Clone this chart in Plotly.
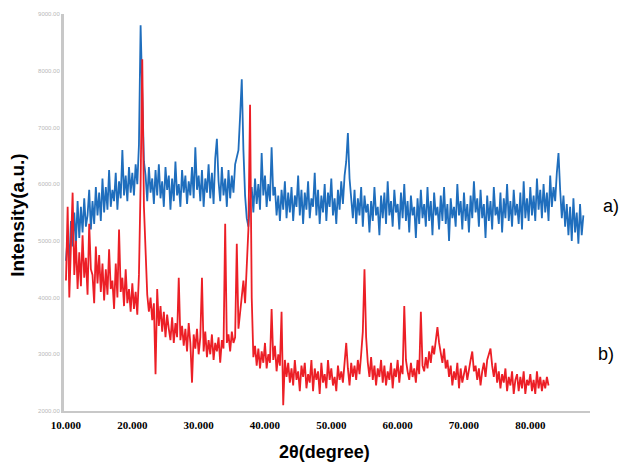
import plotly.graph_objects as go

# 2-theta grids (degree)
theta_a_start, theta_b_start, theta_step = 10.0, 10.0, 0.25

# series a) (blue)
intensity_a = [
    4650, 5100, 4600, 5350, 4900, 5500, 4950, 5700,
    5050, 5600, 5150, 5750, 5250, 5450, 5900, 5200,
    5700, 5300, 5950, 5450, 5850, 5350, 6100, 5500,
    5950, 5550, 6250, 5600, 5900, 5700, 6200, 5550,
    6050, 5750, 6600, 5800, 6150, 5700, 6300, 5850,
    6200, 5800, 6350, 6000, 6700, 8800, 7600, 6400,
    6150, 5700, 6300, 5850, 6100, 5650, 6250, 5800,
    6350, 5750, 6050, 5600, 6300, 5900, 6150, 5550,
    6100, 5700, 6400, 5800, 6000, 5600, 6250, 5850,
    6150, 5650, 6050, 5800, 6300, 5750, 6650, 5900,
    6150, 5700, 6250, 5600, 6100, 5850, 6350, 5750,
    6200, 5650, 6450, 6800, 6050, 5700, 6300, 5800,
    6100, 5600, 6250, 5750, 6150, 5850, 6350, 6500,
    6600, 7200, 7850, 6600, 5800, 5400, 5250, 5700,
    5950, 5500, 6100, 5650, 6000, 5550, 6550, 5800,
    6150, 5600, 6000, 5700, 6650, 5800, 5950, 5450,
    5800, 5350, 5900, 5550, 6050, 5400, 5850, 5500,
    5950, 5350, 5800, 5600, 6150, 5450, 5900, 5300,
    5850, 5550, 6050, 5400, 5750, 5600, 6200, 5450,
    5900, 5300, 5800, 5500, 6000, 5350, 5850, 5600,
    6100, 5450, 5750, 5300, 5900, 5550, 6050, 5650,
    6150, 6400, 6900, 6100, 5700, 5400, 5900, 5300,
    5750, 5450, 5950, 5250, 5800, 5500, 5650, 5150,
    5700, 5350, 5950, 5450, 5600, 5100, 5800, 5400,
    5850, 5300, 6050, 5450, 5700, 5250, 5900, 5500,
    5650, 5200, 5850, 5400, 6000, 5350, 5700, 5150,
    5800, 5450, 5600, 5050, 5750, 5300, 5900, 5400,
    5650, 5250, 5950, 5350, 5700, 5100, 5850, 5450,
    5600, 5200, 5800, 5350, 5950, 5300, 5650, 5000,
    5750, 5400, 5600, 5250, 6000, 5450, 5700, 5200,
    5850, 5350, 5650, 5150, 5800, 5400, 6050, 5500,
    5750, 5250, 5900, 5400, 5650, 5050, 5800, 5350,
    5700, 5200, 5950, 5450, 5600, 5300, 5850, 5150,
    5750, 5400, 6000, 5350, 5700, 5250, 5900, 5450,
    5650, 5300, 5850, 5200, 6050, 5400, 5750, 5350,
    5950, 5450, 5800, 5350, 6100, 5550, 5900, 5400,
    6000, 5500, 5850, 5350, 6150, 5600, 5950, 5700,
    6200, 6550, 5900, 5400, 5800, 5250, 5650, 5100,
    5600, 5000, 5750, 5150, 5500, 4950, 5650, 5100,
    5450,
]

# series b) (red)
intensity_b = [
    4300, 5600, 4000, 4900, 5850, 4400, 5000, 4150,
    4800, 4200, 5100, 4350, 4700, 4050, 5300, 4500,
    4400, 3900, 4900, 4250, 4750, 4100, 4600, 3950,
    4500, 4050, 4850, 4150, 4300, 3800, 4600, 4000,
    5200, 4100, 4350, 3850, 4500, 3900, 4150, 3750,
    4250, 3800, 4100, 3700, 4400, 6000, 8200, 5600,
    4600, 4050, 3750, 4000, 3600, 3900, 2650, 4150,
    3500, 3850, 3400, 3750, 3300, 3700, 3450, 3250,
    3650, 3200, 3550, 3300, 4350, 3250, 3500, 3150,
    3450, 3050, 3550, 3200, 2500, 3350, 3100, 3450,
    3000, 3300, 4350, 3050, 3400, 2950, 3250, 3000,
    3350, 2900, 3200, 3050, 3300, 2850, 3250, 3100,
    5300, 3200, 3350, 3050, 3400, 3200, 3300, 4950,
    3450, 3700, 3950, 4300, 3900, 4500, 5200, 7400,
    4000, 2950, 3150, 2800, 3100, 2750, 3050, 2850,
    3200, 2750, 3000, 2850, 3800, 2900, 3150, 2700,
    3000, 2800, 3750, 2100, 2900, 2600, 2850, 2500,
    2750, 2450, 2900, 2550, 2700, 2350, 2800, 2600,
    2850, 2400, 2650, 2500, 2900, 2350, 2750, 2550,
    2700, 2300, 2850, 2500, 2650, 2400, 2900, 2550,
    2750, 2450, 2600, 2350, 2800, 2550, 2700, 2500,
    2900, 3200, 2750, 2450, 2850, 2600, 2800, 2550,
    2900, 2650, 3000, 3400, 4500, 3300, 2850, 2600,
    2950, 2550, 2800, 2450, 2750, 2600, 2900, 2500,
    2800, 2450, 2700, 2550, 2850, 2400, 2750, 2600,
    2900, 2500, 2800, 2650, 3850, 2900, 2700, 2550,
    2850, 2600, 2750, 2500, 2900, 2650, 3750, 2800,
    2700, 2950, 2750, 3050, 2850, 3150, 3000, 3300,
    3480, 3200, 3050, 2850, 3100, 2750, 2900, 2600,
    2800, 2450, 2700, 2550, 2850, 2400, 2750, 2500,
    2650, 2800, 2550, 2750, 2900, 3050, 2700, 2800,
    2550, 2750, 2450, 2700, 2850, 2600, 2900, 3000,
    3100, 2800, 2600, 2850, 2500, 2700, 2400, 2650,
    2500, 2750, 2350, 2600, 2450, 2700, 2300, 2550,
    2650, 2350, 2600, 2400, 2700, 2300, 2550, 2450,
    2650, 2350, 2550, 2300, 2700, 2400, 2600, 2350,
    2550, 2400, 2600, 2450,
]

x_ticks = [10, 20, 30, 40, 50, 60, 70, 80]
x_tick_labels = ["10.000", "20.000", "30.000", "40.000", "50.000", "60.000", "70.000", "80.000"]
y_ticks = [2000, 3000, 4000, 5000, 6000, 7000, 8000, 9000]
y_tick_labels = ["2000.00", "3000.00", "4000.00", "5000.00", "6000.00", "7000.00", "8000.00", "9000.00"]
series_labels = ["a)", "b)"]

theta_a = [theta_a_start + theta_step * i for i in range(len(intensity_a))]
theta_b = [theta_b_start + theta_step * i for i in range(len(intensity_b))]

fig = go.Figure()
fig.add_trace(go.Scatter(x=theta_a, y=intensity_a, mode="lines",
                         line=dict(color="#1f6ebd", width=1.8), name=series_labels[0]))
fig.add_trace(go.Scatter(x=theta_b, y=intensity_b, mode="lines",
                         line=dict(color="#ec1f26", width=1.8), name=series_labels[1]))

fig.update_layout(
    width=620, height=462,
    margin=dict(l=64, r=30, t=14, b=51),
    paper_bgcolor="white", plot_bgcolor="white",
    showlegend=False,
)
fig.update_xaxes(
    range=[9.7, 89.0], tickvals=x_ticks, ticktext=x_tick_labels,
    showgrid=False, zeroline=False, showline=True, linecolor="#c8c8c8", linewidth=2,
    ticks="", ticklabelstandoff=3,
    tickfont=dict(family="Liberation Serif", size=11, color="black", weight="bold"),
)
fig.update_yaxes(
    range=[2000, 9000], tickvals=y_ticks, ticktext=y_tick_labels,
    showgrid=False, zeroline=False, showline=True, linecolor="#c8c8c8", linewidth=3,
    ticks="", tickfont=dict(family="Liberation Sans", size=6, color="#b8b8b8"),
)

title_font = dict(family="Liberation Sans", size=18, color="black")
annotations = [
    dict(text="<b>Intensity(a.u.)</b>", x=-0.0875, y=0.494, xref="paper", yref="paper",
         xanchor="center", yanchor="middle", textangle=-90, showarrow=False,
         font=dict(family="Liberation Sans", size=19, color="black")),
    dict(text="<b>2θ(degree)</b>", x=0.496, y=-0.103, xref="paper", yref="paper",
         xanchor="center", yanchor="middle", showarrow=False, font=title_font),
    dict(text=series_labels[0], x=1.04, y=0.516, xref="paper", yref="paper",
         xanchor="center", yanchor="middle", showarrow=False, font=title_font),
    dict(text=series_labels[1], x=1.03, y=0.144, xref="paper", yref="paper",
         xanchor="center", yanchor="middle", showarrow=False, font=title_font),
]
fig.update_layout(annotations=annotations)

fig.write_html("out.html")
